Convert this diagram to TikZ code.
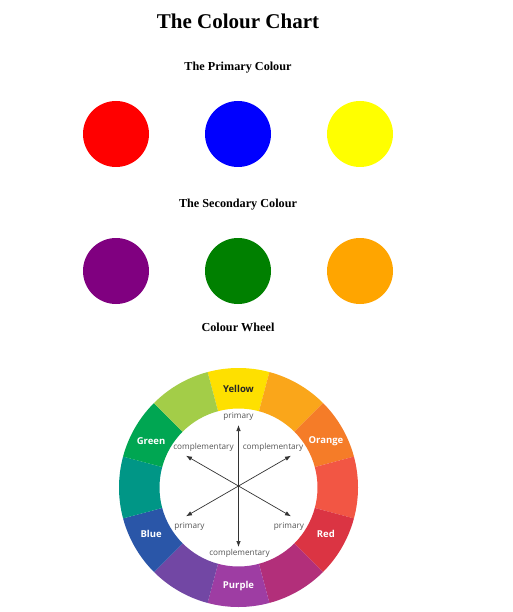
\documentclass[tikz,border=0pt]{standalone}
\usepackage{fontspec}
\setmainfont{Liberation Serif}
\newfontfamily\wheelfont{Open Sans}
\usetikzlibrary{arrows.meta}
\definecolor{cYellow}{HTML}{FEE000}
\definecolor{cYellowOrange}{HTML}{FAA61A}
\definecolor{cOrange}{HTML}{F57C28}
\definecolor{cRedOrange}{HTML}{F25644}
\definecolor{cRed}{HTML}{DB3443}
\definecolor{cRedPurple}{HTML}{B22F7A}
\definecolor{cPurple}{HTML}{9E3DA3}
\definecolor{cBluePurple}{HTML}{7247A4}
\definecolor{cBlue}{HTML}{2A56A8}
\definecolor{cBlueGreen}{HTML}{009686}
\definecolor{cGreen}{HTML}{00A652}
\definecolor{cYellowGreen}{HTML}{A3CD48}
\definecolor{webRed}{HTML}{FF0000}
\definecolor{webBlue}{HTML}{0000FF}
\definecolor{webYellow}{HTML}{FFFF00}
\definecolor{webPurple}{HTML}{800080}
\definecolor{webGreen}{HTML}{008000}
\definecolor{webOrange}{HTML}{FFA500}
\definecolor{innertext}{HTML}{555555}
\definecolor{arrowgray}{HTML}{333333}
\begin{document}
\begin{tikzpicture}[x=1pt,y=1pt,
  dot/.style={circle,minimum size=66pt,inner sep=0pt},
  heading/.style={font=\bfseries\fontsize{12.2}{14}\selectfont,inner sep=0pt,anchor=base},
  seglabel/.style={font=\wheelfont\bfseries\fontsize{9.5}{11}\selectfont,text=white,inner sep=0pt},
  inlabel/.style={font=\wheelfont\fontsize{8.2}{9}\selectfont,text=innertext,inner sep=0pt},
  arr/.style={arrowgray,line width=0.7pt,{Latex[length=6pt,width=4.5pt]}-{Latex[length=6pt,width=4.5pt]}}]
\useasboundingbox[fill=white] (0,0) rectangle (513,-612);
% titles
\node[font=\bfseries\fontsize{21}{24}\selectfont,inner sep=0pt,anchor=base] (title) at (238,-28.5) {The Colour Chart};
\node[heading] (h1) at (238,-70.5) {The Primary Colour};
\node[heading] (h2) at (238,-207.5) {The Secondary Colour};
\node[heading] (h3) at (238,-331) {Colour Wheel};
% primary
\node[dot,fill=webRed] (pred) at (116,-134) {};
\node[dot,fill=webBlue] (pblue) at (238,-134) {};
\node[dot,fill=webYellow] (pyellow) at (360,-134) {};
% secondary
\node[dot,fill=webPurple] (spurple) at (116,-271) {};
\node[dot,fill=webGreen] (sgreen) at (238,-271) {};
\node[dot,fill=webOrange] (sorange) at (360,-271) {};
% wheel
\begin{scope}[shift={(238.5,-487.5)}]
\foreach \a/\c in {90/cYellow,60/cYellowOrange,30/cOrange,0/cRedOrange,-30/cRed,-60/cRedPurple,-90/cPurple,-120/cBluePurple,-150/cBlue,180/cBlueGreen,150/cGreen,120/cYellowGreen}{
  \fill[\c] (\a-15:119.5) arc[start angle=\a-15,end angle=\a+15,radius=119.5]
    -- (\a+15:79) arc[start angle=\a+15,end angle=\a-15,radius=79] -- cycle;
}
\node[seglabel,text=black!85] (lyellow) at (90:99) {Yellow};
\node[seglabel] (lorange) at (28:99) {Orange};
\node[seglabel] (lred) at (-28:99) {Red};
\node[seglabel] (lpurple) at (-90:99) {Purple};
\node[seglabel] (lblue) at (-152:99) {Blue};
\node[seglabel] (lgreen) at (152:99) {Green};
\end{scope}
% arrows
\coordinate (ctr) at (238.5,-486);
\coordinate (atop) at (238.5,-425);
\coordinate (abot) at (238.5,-547);
\coordinate (aul) at (186,-455.7);
\coordinate (alr) at (291,-516.3);
\coordinate (aur) at (291,-455.7);
\coordinate (all) at (186,-516.3);
\draw[arr] (atop) -- (abot);
\draw[arr] (aul) -- (alr);
\draw[arr] (aur) -- (all);
\node[inlabel] (tprim) at (238.5,-416) {primary};
\node[inlabel] (tcompl) at (203.5,-447.5) {complementary};
\node[inlabel] (tcompr) at (273,-447.5) {complementary};
\node[inlabel] (tprimll) at (189.5,-526) {primary};
\node[inlabel] (tprimlr) at (289,-526) {primary};
\node[inlabel] (tcompb) at (239.5,-553.5) {complementary};
\end{tikzpicture}
\end{document}
